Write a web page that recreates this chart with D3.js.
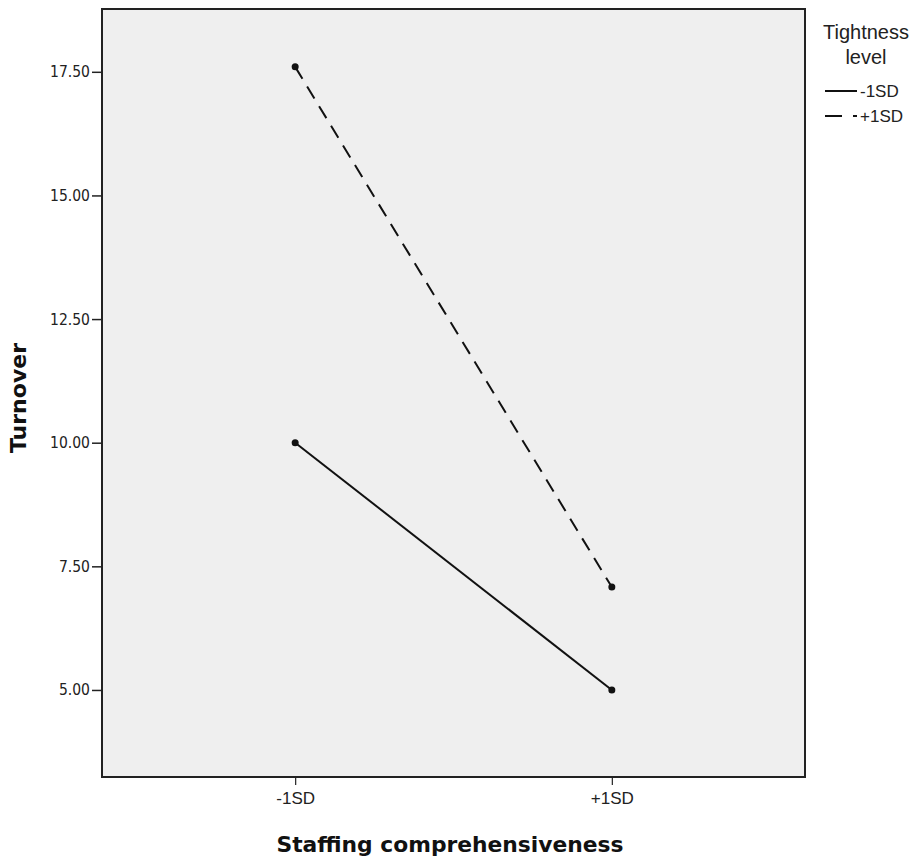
<!DOCTYPE html>
<html>
<head>
<meta charset="utf-8">
<script src="https://cdn.jsdelivr.net/npm/d3@7"></script>
<style>
  body { margin: 0; background: #fff; }
  svg { display: block; }
</style>
</head>
<body>
<div id="chart"></div>
<script>
// data
const categories = ["-1SD", "+1SD"];
const seriesNames = ["-1SD", "+1SD"];
const lowTightness = [10.0, 5.0];
const highTightness = [17.6, 7.08];
const yTicks = [5, 7.5, 10, 12.5, 15, 17.5];

const width = 920, height = 859;
const plot = {left: 102, top: 9, right: 805, bottom: 777};

let svg = d3.select("#chart")
    .append("svg")
    .attr("width", width)
    .attr("height", height);

// plot background
svg.append("rect")
    .attr("x", plot.left)
    .attr("y", plot.top)
    .attr("width", plot.right - plot.left)
    .attr("height", plot.bottom - plot.top)
    .attr("fill", "#efefef")
    .attr("stroke", "#222")
    .attr("stroke-width", 2);

let x = d3.scalePoint()
    .domain(categories)
    .range([plot.left, plot.right])
    .padding(0.61);

let y = d3.scaleLinear()
    .domain([3.24, 18.77])
    .range([plot.bottom, plot.top]);

// Y axis
let yAxis = svg.append("g")
    .attr("transform", "translate(" + plot.left + ",0)")
    .call(d3.axisLeft(y).tickValues(yTicks).tickFormat(d3.format(".2f")).tickSize(10).tickSizeOuter(0));
yAxis.select(".domain").remove();
yAxis.selectAll("line").attr("stroke", "#222").attr("stroke-width", 1.5);
yAxis.selectAll("text")
    .attr("x", -12)
    .style("font-family", "DejaVu Sans Condensed, DejaVu Sans, sans-serif")
    .style("font-size", "15.5px")
    .attr("fill", "#222");

// X axis
let xAxis = svg.append("g")
    .attr("transform", "translate(0," + plot.bottom + ")")
    .call(d3.axisBottom(x).tickSize(8).tickSizeOuter(0));
xAxis.select(".domain").remove();
xAxis.selectAll("line").attr("stroke", "#222").attr("stroke-width", 1.2);
xAxis.selectAll("text")
    .attr("y", 15)
    .style("font-family", "Liberation Sans, Arial, sans-serif")
    .style("font-size", "17px")
    .attr("fill", "#222");

// axis titles
svg.append("text")
    .attr("x", 450)
    .attr("y", 852)
    .attr("text-anchor", "middle")
    .style("font-family", "DejaVu Sans, sans-serif")
    .style("font-weight", "bold")
    .style("font-size", "21.8px")
    .attr("fill", "#111")
    .text("Staffing comprehensiveness");

svg.append("text")
    .attr("transform", "translate(26,398) rotate(-90)")
    .attr("text-anchor", "middle")
    .style("font-family", "DejaVu Sans, sans-serif")
    .style("font-weight", "bold")
    .style("font-size", "22px")
    .attr("fill", "#111")
    .text("Turnover");

// lines
let series = [
  {name: seriesNames[0], values: lowTightness, dash: null},
  {name: seriesNames[1], values: highTightness, dash: "14,9"}
];

let line = d3.line()
    .x(function(d, i) { return x(categories[i]); })
    .y(function(d) { return y(d); });

svg.selectAll("path.series")
    .data(series)
    .enter()
    .append("path")
    .attr("class", "series")
    .attr("d", function(d) { return line(d.values); })
    .attr("fill", "none")
    .attr("stroke", "#111")
    .attr("stroke-width", 2)
    .attr("stroke-dasharray", function(d) { return d.dash; });

series.forEach(function(s) {
  svg.selectAll(null)
      .data(s.values)
      .enter()
      .append("circle")
      .attr("cx", function(d, i) { return x(categories[i]); })
      .attr("cy", function(d) { return y(d); })
      .attr("r", 3.5)
      .attr("fill", "#111");
});

// legend
let legend = svg.append("g");
legend.append("text")
    .attr("x", 866).attr("y", 39)
    .attr("text-anchor", "middle")
    .style("font-family", "Liberation Sans, Arial, sans-serif")
    .style("font-size", "20px")
    .attr("fill", "#222")
    .text("Tightness");
legend.append("text")
    .attr("x", 866).attr("y", 64)
    .attr("text-anchor", "middle")
    .style("font-family", "Liberation Sans, Arial, sans-serif")
    .style("font-size", "20px")
    .attr("fill", "#222")
    .text("level");

let items = legend.selectAll("g.item")
    .data(series)
    .enter()
    .append("g")
    .attr("class", "item")
    .attr("transform", function(d, i) { return "translate(825," + (91 + i * 25) + ")"; });
items.append("line")
    .attr("x1", 0).attr("x2", 32)
    .attr("stroke", "#111")
    .attr("stroke-width", 2)
    .attr("stroke-dasharray", function(d) { return d.dash ? "17,11,5" : null; });
items.append("text")
    .attr("x", 35).attr("y", 6)
    .style("font-family", "Liberation Sans, Arial, sans-serif")
    .style("font-size", "17px")
    .attr("fill", "#222")
    .text(function(d) { return d.name; });
</script>
</body>
</html>
